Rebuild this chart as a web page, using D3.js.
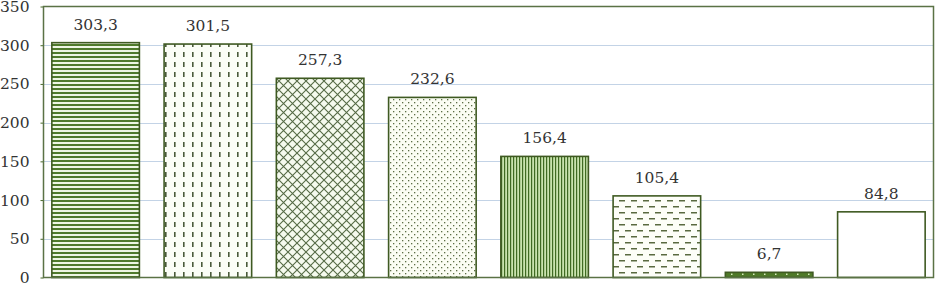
<!DOCTYPE html>
<html>
<head>
<meta charset="utf-8">
<script src="https://cdn.jsdelivr.net/npm/d3@7"></script>
<style>
  body { margin: 0; background: #fff; }
</style>
</head>
<body>
<script>
// chart values
let categories = ["c1", "c2", "c3", "c4", "c5", "c6", "c7", "c8"];
let values = [303.3, 301.5, 257.3, 232.6, 156.4, 105.4, 6.7, 84.8];
let labels = ["303,3", "301,5", "257,3", "232,6", "156,4", "105,4", "6,7", "84,8"];
let yTicks = [0, 50, 100, 150, 200, 250, 300, 350];
let patterns = ["hstripe", "vdash", "cross", "dots", "vstripe", "hdash", "darkdots", "none"];

let svgWidth = 935;
let svgHeight = 283;
let frame = { left: 43.5, right: 933.5, top: 6.5, bottom: 277.5 };
let green = "#4a6a2a";
let serif = "'DejaVu Serif', serif";
let fontSize = 15.5;

let svg = d3.select("body").append("svg")
  .attr("width", svgWidth)
  .attr("height", svgHeight);

let defs = svg.append("defs");

function pat(id, w, h, bg) {
  let p = defs.append("pattern")
    .attr("id", id)
    .attr("patternUnits", "userSpaceOnUse")
    .attr("width", w)
    .attr("height", h);
  p.append("rect").attr("width", w).attr("height", h).attr("fill", bg);
  return p;
}

// horizontal stripes
pat("hstripe", 4, 4, "#eef6e4")
  .append("rect").attr("y", 0).attr("width", 4).attr("height", 2).attr("fill", "#4f7a2c");

// vertical dashes
let vd = pat("vdash", 9, 20, "#fbfdf6");
vd.append("rect").attr("x", 3).attr("y", 2).attr("width", 1.6).attr("height", 5).attr("fill", "#4a5a3a");
vd.append("rect").attr("x", 3).attr("y", 12).attr("width", 1.6).attr("height", 5).attr("fill", "#4a5a3a");

// diagonal crosshatch
let cr = pat("cross", 9, 9, "#f5faee");
cr.append("path").attr("d", "M0,0L9,9M9,0L0,9").attr("stroke", "#556b45").attr("stroke-width", 1.1);

// small dots
let dt = pat("dots", 6, 6, "#fbfdf3");
dt.append("rect").attr("x", 0).attr("y", 0).attr("width", 1.3).attr("height", 1.3).attr("fill", "#5c6e45");
dt.append("rect").attr("x", 3).attr("y", 3).attr("width", 1.3).attr("height", 1.3).attr("fill", "#5c6e45");

// vertical stripes
pat("vstripe", 3, 3, "#c9e3ae")
  .append("rect").attr("x", 0).attr("width", 1.2).attr("height", 3).attr("fill", "#3f6a22");

// horizontal dashes
let hd = pat("hdash", 12, 12, "#fdfef8");
hd.append("rect").attr("x", 1).attr("y", 2).attr("width", 6).attr("height", 1.5).attr("fill", "#5a6a40");
hd.append("rect").attr("x", 7).attr("y", 8).attr("width", 6).attr("height", 1.5).attr("fill", "#5a6a40");
hd.append("rect").attr("x", -5).attr("y", 8).attr("width", 6).attr("height", 1.5).attr("fill", "#5a6a40");

// dark with light dots
let dd = pat("darkdots", 11, 4, "#4f7a28");
dd.append("rect").attr("x", 5).attr("y", 1.5).attr("width", 1.5).attr("height", 1.5).attr("fill", "#d9ecc0");

let x = d3.scaleBand()
  .domain(categories)
  .range([39.5, 937.5])
  .paddingInner(0.22)
  .paddingOuter(0.11);

let y = d3.scaleLinear()
  .domain([0, 350])
  .range([frame.bottom, frame.top]);

// grid
svg.append("g")
  .selectAll("line")
  .data(yTicks.slice(1, -1))
  .enter()
  .append("line")
  .attr("x1", frame.left)
  .attr("x2", frame.right)
  .attr("y1", d => Math.round(y(d)) + 0.5)
  .attr("y2", d => Math.round(y(d)) + 0.5)
  .attr("stroke", "#c3d3e6")
  .attr("stroke-width", 1);

// y axis labels + ticks
let leftAxis = d3.axisLeft(y)
  .tickValues(yTicks)
  .tickSize(3)
  .tickPadding(11)
  .tickFormat(d3.format("d"));

let ya = svg.append("g")
  .attr("transform", `translate(${frame.left}, 0)`)
  .call(leftAxis)
  .attr("font-family", serif)
  .attr("font-size", fontSize);
ya.select(".domain").remove();
ya.selectAll(".tick line").attr("stroke", green);
ya.selectAll("text").attr("fill", "#333");

// bars
svg.append("g")
  .selectAll("rect")
  .data(values)
  .enter()
  .append("rect")
  .attr("x", (d, i) => x(categories[i]))
  .attr("y", d => y(d))
  .attr("width", x.bandwidth())
  .attr("height", d => frame.bottom - y(d))
  .attr("fill", (d, i) => patterns[i] == "none" ? "#ffffff" : `url(#${patterns[i]})`)
  .attr("stroke", "#3f5a22")
  .attr("stroke-width", 1.6);

// value labels
svg.append("g")
  .selectAll("text")
  .data(values)
  .enter()
  .append("text")
  .attr("x", (d, i) => x(categories[i]) + x.bandwidth() / 2)
  .attr("y", d => y(d) - 13)
  .attr("text-anchor", "middle")
  .attr("font-family", serif)
  .attr("font-size", fontSize)
  .attr("fill", "#333")
  .text((d, i) => labels[i]);

// plot frame
svg.append("rect")
  .attr("x", frame.left)
  .attr("y", frame.top)
  .attr("width", frame.right - frame.left)
  .attr("height", frame.bottom - frame.top)
  .attr("fill", "none")
  .attr("stroke", "#5a7245")
  .attr("stroke-width", 1.5);
</script>
</body>
</html>
